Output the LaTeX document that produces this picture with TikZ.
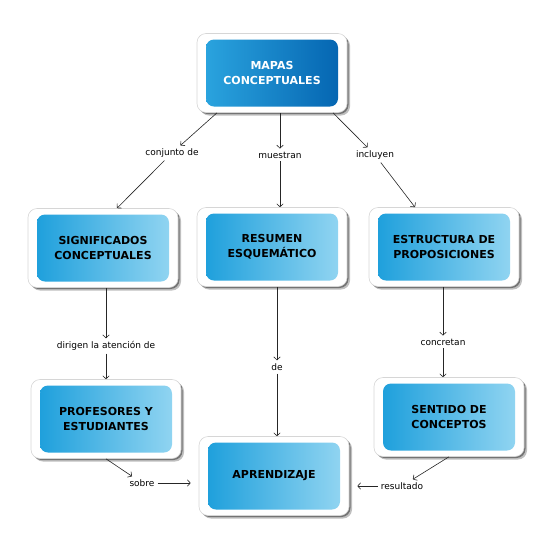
\documentclass[tikz,border=0pt]{standalone}
\usepackage{fontspec}
\setmainfont{DejaVu Sans}
\usepackage{tikz}
\usetikzlibrary{arrows.meta,positioning,calc,shadows}
\definecolor{mapaL}{HTML}{2AA3DE}
\definecolor{mapaR}{HTML}{0566B2}
\definecolor{cajaL}{HTML}{1FA0DC}
\definecolor{cajaR}{HTML}{90D4F1}
\definecolor{marcoGris}{HTML}{D6D6D6}

\begin{document}
\begin{tikzpicture}[x=1pt,y=-1pt,
      marco/.style={rectangle,rounded corners=9pt,fill=white,draw=marcoGris,line width=0.6pt,
        minimum width=150pt,minimum height=79pt,inner sep=0pt,
        drop shadow={shadow xshift=1.5pt,shadow yshift=-1.5pt,opacity=0.4,fill=black},
        drop shadow={shadow xshift=3pt,shadow yshift=-3pt,opacity=0.25,fill=black}},
      concepto/.style={rectangle,rounded corners=8pt,minimum width=132pt,minimum height=67pt,
        inner sep=0pt,align=center,font=\fontsize{11}{15}\selectfont\bfseries,
        left color=cajaL,right color=cajaR,text=black},
      oscuro/.style={left color=mapaL,right color=mapaR,text=white},
      enlace/.style={font=\fontsize{9}{11}\selectfont,fill=white,inner sep=3pt},
      flecha/.style={-{Straight Barb[length=3pt,width=6.5pt]},black!85,line width=0.6pt}]
    \useasboundingbox (0,0) rectangle (550,550);
    % conceptos
    \node[marco] (mapas-m) at (272,73) {};
    \node[concepto,oscuro] (mapas) at (272,73) {MAPAS\\CONCEPTUALES};
    \node[marco] (signif-m) at (103,248) {};
    \node[concepto] (signif) at (103,248) {SIGNIFICADOS\\CONCEPTUALES};
    \node[marco] (resumen-m) at (272,247) {};
    \node[concepto] (resumen) at (272,247) {RESUMEN\\ESQUEMÁTICO};
    \node[marco] (estruc-m) at (444,247) {};
    \node[concepto] (estruc) at (444,247) {ESTRUCTURA DE\\PROPOSICIONES};
    \node[marco] (profes-m) at (106,419) {};
    \node[concepto] (profes) at (106,419) {PROFESORES Y\\ESTUDIANTES};
    \node[marco] (sentido-m) at (449,417) {};
    \node[concepto] (sentido) at (449,417) {SENTIDO DE\\CONCEPTOS};
    \node[marco] (aprend-m) at (274,476) {};
    \node[concepto] (aprend) at (274,476) {APRENDIZAJE};
    % palabras de enlace
    \node[enlace] (conjunto) at (172,153) {conjunto de};
    \node[enlace] (muestran) at (280,155) {muestran};
    \node[enlace] (incluyen) at (375,155) {incluyen};
    \node[enlace] (dirigen) at (106,346) {dirigen la atención de};
    \node[enlace] (de) at (277,367) {de};
    \node[enlace] (concretan) at (443,342) {concretan};
    \node[enlace] (sobre) at (142,483) {sobre};
    \node[enlace] (resultado) at (402,486) {resultado};
    % conexiones
    \draw[flecha] ([xshift=-55pt]mapas-m.south) -- (conjunto);
    \draw[flecha] (conjunto) -- ([xshift=14pt]signif-m.north);
    \draw[flecha] (muestran |- mapas-m.south) -- (muestran);
    \draw[flecha] (muestran) -- (muestran |- resumen-m.north);
    \draw[flecha] ([xshift=61pt]mapas-m.south) -- (incluyen);
    \draw[flecha] (incluyen) -- ([xshift=-29pt]estruc-m.north);
    \draw[flecha] (dirigen |- signif-m.south) -- (dirigen);
    \draw[flecha] (dirigen) -- (dirigen |- profes-m.north);
    \draw[flecha] (de |- resumen-m.south) -- (de);
    \draw[flecha] (de) -- (de |- aprend-m.north);
    \draw[flecha] (concretan |- estruc-m.south) -- (concretan);
    \draw[flecha] (concretan) -- (concretan |- sentido-m.north);
    \draw[flecha] (profes-m.south) -- (sobre);
    \draw[flecha] (sobre) -- ([xshift=-8pt]aprend-m.west |- sobre);
    \draw[flecha] (sentido-m.south) -- (resultado);
    \draw[flecha] (resultado) -- ([xshift=8pt]aprend-m.east |- resultado);
  \end{tikzpicture}
\end{document}
